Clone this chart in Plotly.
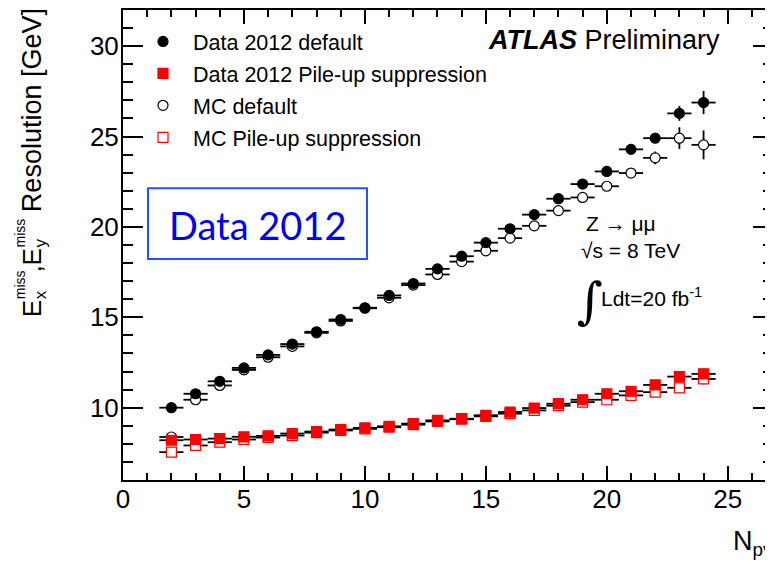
import plotly.graph_objects as go

# ---------------- data ----------------
npv = [2, 3, 4, 5, 6, 7, 8, 9, 10, 11, 12, 13, 14, 15, 16, 17, 18, 19, 20, 21, 22, 23, 24]
npv_err = [0.5] * 23

data_default = [10.0, 10.77, 11.46, 12.2, 12.92, 13.52, 14.2, 14.88, 15.53, 16.21, 16.87, 17.68,
                18.38, 19.13, 19.9, 20.68, 21.56, 22.37, 23.07, 24.29, 24.91, 26.28, 26.88]
data_default_err = [0.05] * 18 + [0.08, 0.15, 0.2, 0.41, 0.64]

mc_default = [8.38, 10.44, 11.23, 12.09, 12.79, 13.39, 14.14, 14.8, 15.5, 16.08, 16.78, 17.37,
              18.08, 18.68, 19.38, 20.06, 20.9, 21.63, 22.25, 22.98, 23.82, 24.91, 24.54]
mc_default_err = [0.05] * 18 + [0.12, 0.2, 0.35, 0.6, 0.8]

data_pu = [8.2, 8.24, 8.29, 8.39, 8.44, 8.57, 8.68, 8.79, 8.88, 8.97, 9.12, 9.3,
           9.39, 9.58, 9.76, 9.98, 10.22, 10.44, 10.77, 10.91, 11.26, 11.72, 11.87]
data_pu_err = [0.03] * 20 + [0.08, 0.15, 0.3]

mc_pu = [7.54, 7.91, 8.09, 8.24, 8.35, 8.46, 8.62, 8.74, 8.83, 8.92, 9.06, 9.24,
         9.36, 9.52, 9.67, 9.85, 10.11, 10.31, 10.44, 10.68, 10.86, 11.1, 11.59]
mc_pu_err = [0.03] * 20 + [0.08, 0.15, 0.3]

x_ticks = [0, 5, 10, 15, 20, 25]
y_ticks = [10, 15, 20, 25, 30]

# ---------------- layout helpers (screen pixels -> paper) ----------------
W, H = 773, 564
OFF = 8                        # default page body margin
L, R, T, B = 123, 773, 8, 480  # plot area on screen
def px(x):
    return (x - L) / (R - L)
def py(y):
    return (B - y) / (B - T)

FONT = "Liberation Sans, Arial, Helvetica, sans-serif"
RED = "#ff0000"

fig = go.Figure()

def add_series(y, yerr, name, symbol, color, fill, rank):
    fig.add_trace(go.Scatter(
        x=npv, y=y, mode="markers", name=name,
        legendgroup=name, legendrank=rank,
        marker=dict(symbol=symbol, size=10, color=fill,
                    line=dict(color=color, width=1.2)),
        error_x=dict(type="data", array=npv_err, color="black", thickness=1.8, width=0),
        error_y=dict(type="data", array=yerr, color="black", thickness=1.8, width=0),
    ))

# draw order: MC first, data on top
add_series(mc_default, mc_default_err, "MC default", "circle", "black", "white", 3)
add_series(mc_pu, mc_pu_err, "MC Pile-up suppression", "square", RED, "white", 4)
add_series(data_default, data_default_err, "Data 2012 default", "circle", "black", "black", 1)
add_series(data_pu, data_pu_err, "Data 2012 Pile-up suppression", "square", RED, RED, 2)

axis_common = dict(
    showgrid=False, zeroline=False, showline=True, linecolor="black", linewidth=2,
    mirror="allticks", ticks="inside", tickcolor="black", tickwidth=1.5,
    tickfont=dict(family=FONT, size=26, color="black"),
)

fig.update_xaxes(range=[0, 26.87], tickvals=x_ticks, ticktext=[str(v) for v in x_ticks],
                 ticklen=14, ticklabelstandoff=-5,
                 minor=dict(dtick=1, ticks="inside", ticklen=7, tickcolor="black", tickwidth=1.5),
                 **axis_common)
fig.update_yaxes(range=[6, 32], tickvals=y_ticks, ticktext=[str(v) for v in y_ticks],
                 ticklen=20, ticklabelstandoff=-3,
                 minor=dict(dtick=1, ticks="inside", ticklen=10, tickcolor="black", tickwidth=1.5),
                 **axis_common)

ann = []
def add_text(x, y, text, size, xanchor="left", family=FONT, color="black", angle=0, yanchor="middle"):
    ann.append(dict(x=px(x), y=py(y), xref="paper", yref="paper", xanchor=xanchor, yanchor=yanchor,
                    text=text, showarrow=False, textangle=angle, borderpad=0,
                    font=dict(family=family, size=size, color=color)))

add_text(487, 38, "<b><i>ATLAS</i></b> Preliminary", 27)
add_text(585, 222, "Z → μμ", 21)
add_text(580, 250, "√s = 8 TeV", 21)
add_text(590, 300, "∫", 50, xanchor="center", family="DejaVu Serif, serif")
add_text(600, 296, "Ldt=20 fb<sup>-1</sup>", 21)
add_text(257, 224, "Data 2012", 38, xanchor="center", family="Lato, Open Sans, sans-serif", color="#0000f0")
add_text(732, 543, "N<sub>pv</sub>", 27)

# y-axis title, composed of pieces so that sub/superscripts stack (ROOT style)
TX = 32      # centre of main text line
add_text(TX, 317, "E", 26, xanchor="center", angle=-90, yanchor="bottom")
add_text(20, 300, "miss", 14, xanchor="center", angle=-90, yanchor="bottom")
add_text(40, 300, "x", 17, xanchor="center", angle=-90, yanchor="bottom")
add_text(TX, 272, ",", 26, xanchor="center", angle=-90, yanchor="bottom")
add_text(TX, 265, "E", 26, xanchor="center", angle=-90, yanchor="bottom")
add_text(20, 248, "miss", 14, xanchor="center", angle=-90, yanchor="bottom")
add_text(40, 248, "y", 17, xanchor="center", angle=-90, yanchor="bottom")
add_text(TX, 212, "Resolution [GeV]", 27, xanchor="center", angle=-90, yanchor="bottom")

fig.update_layout(
    width=W, height=H,
    margin=dict(l=L - OFF, r=W - (R - OFF), t=T - OFF, b=H - (B - OFF), pad=0),
    paper_bgcolor="white", plot_bgcolor="white",
    annotations=ann,
    shapes=[dict(type="rect", xref="paper", yref="paper",
                 x0=px(148), x1=px(367), y0=py(258), y1=py(187),
                 line=dict(color="#2850ff", width=2), fillcolor="rgba(0,0,0,0)")],
    showlegend=True,
    legend=dict(x=px(133), y=py(19), xanchor="left", yanchor="top", itemwidth=50,
                bgcolor="rgba(0,0,0,0)", borderwidth=0, tracegroupgap=1,
                font=dict(family=FONT, size=21.5, color="black")),
)

fig.write_html("out.html")
